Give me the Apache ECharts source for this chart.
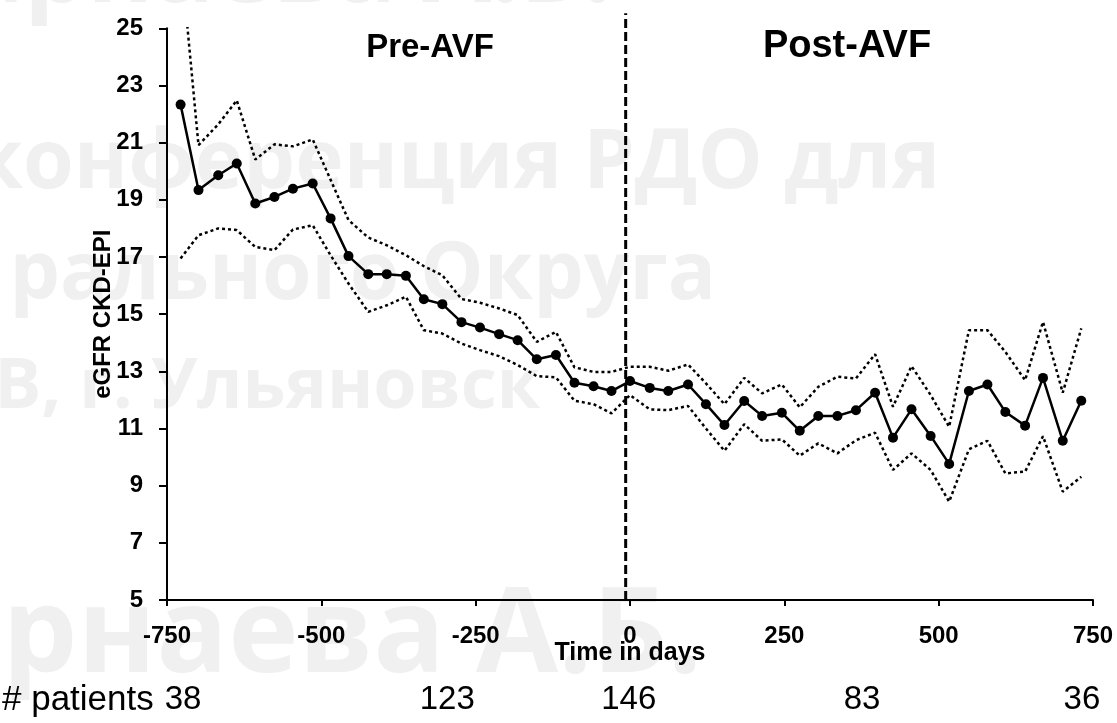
<!DOCTYPE html>
<html>
<head>
<meta charset="utf-8">
<script src="https://cdn.jsdelivr.net/npm/echarts/dist/echarts.min.js"></script>
<style>
	html, body { margin: 0; padding: 0; background: #fff; }
	#egfr-chart { width: 1117px; height: 723px; }
</style>
</head>
<body>
<div id="egfr-chart"></div>
<script>
// time (days from AVF creation) of each monthly point
var days = [-728, -699, -667, -637, -607, -576, -546, -514, -485, -456, -424, -394, -363,
	-334, -304, -273, -243, -212, -182, -151, -120, -90, -59, -30, 0,
	32, 62, 94, 123, 153, 185, 214, 246, 275, 305, 336, 366, 397, 426, 456, 487,
	517, 549, 579, 608, 640, 669, 701, 731];

// mean eGFR
var meanValues = [22.33, 19.34, 19.86, 20.27, 18.87, 19.10, 19.39, 19.57, 18.35, 17.03, 16.40, 16.40, 16.34,
	15.52, 15.35, 14.72, 14.53, 14.30, 14.09, 13.42, 13.57, 12.60, 12.48, 12.31, 12.66,
	12.42, 12.31, 12.54, 11.85, 11.12, 11.96, 11.44, 11.55, 10.92, 11.44, 11.44, 11.64, 12.25, 10.68, 11.67, 10.74,
	9.76, 12.31, 12.54, 11.58, 11.10, 12.77, 10.57, 11.97];

// upper 95% CI
var upperValues = [27.6, 20.91, 21.64, 22.48, 20.41, 20.94, 20.87, 21.11, 19.70, 18.29, 17.68, 17.41, 17.06,
	16.68, 16.36, 15.53, 15.40, 15.20, 14.97, 14.03, 14.38, 13.14, 12.98, 12.98, 13.16,
	13.16, 13.02, 13.24, 12.58, 11.85, 12.77, 12.23, 12.54, 11.74, 12.46, 12.81, 12.75, 13.60, 11.76, 13.18, 12.17,
	11.06, 14.44, 14.44, 13.68, 12.69, 14.73, 12.25, 14.50];

// lower 95% CI
var lowerValues = [16.95, 17.76, 18.00, 17.94, 17.35, 17.24, 17.96, 18.11, 17.06, 16.07, 15.08, 15.31, 15.61,
	14.44, 14.32, 13.97, 13.74, 13.53, 13.22, 12.83, 12.79, 11.97, 11.85, 11.53, 12.17,
	11.67, 11.64, 11.79, 11.00, 10.22, 11.15, 10.57, 10.62, 10.05, 10.48, 10.13, 10.59, 10.85, 9.55, 10.13, 9.55,
	8.44, 10.27, 10.57, 9.43, 9.49, 10.73, 8.79, 9.31];

// AVF creation marker (dashed vertical)
var avfLine = [[-7, 5], [-7, 25.53]];

// number of patients under the axis
var patientDays = [-724, -296, -2, 376, 732];
var patientCounts = [38, 123, 146, 83, 36];

var FONT = '"Liberation Sans", Arial, sans-serif';

function pairs(xs, ys) {
	var out = [];
	for (var i = 0; i < xs.length; i++) {
		out.push([xs[i], ys[i]]);
	}
	return out;
}

var myChart = echarts.init(document.getElementById('egfr-chart'));

/*--- watermark ---*/
var wmColor = '#f0f0f0';
var watermark = [
	{ text: 'Чарнаева А.Б.', x: 612, y: -26, size: 100 },
	{ text: 'конференция РДО для', x: 940, y: 165, size: 82 },
	{ text: 'рального Округа', x: 716, y: 276, size: 80 },
	{ text: 'В, г. Ульяновск', x: 540, y: 388, size: 70 },
	{ text: 'Чарнаева А.Б.', x: 702, y: 638, size: 119 }
];

var option = {
	backgroundColor: '#ffffff',
	animation: false,
	grid: {
		left: 167,
		right: 24,
		top: 28.3,
		bottom: 123,
		outerBoundsMode: 'none'
	},
	xAxis: {
		type: 'value',
		min: -750,
		max: 750,
		interval: 250,
		name: 'Time in days',
		nameLocation: 'middle',
		nameGap: 41,
		nameMoveOverlap: false,
		nameTextStyle: {
			color: '#000',
			fontSize: 25,
			fontWeight: 'bold',
			fontFamily: FONT
		},
		axisLine: {
			onZero: false,
			lineStyle: { color: '#000', width: 2 }
		},
		axisTick: {
			length: 6,
			lineStyle: { color: '#000', width: 2 }
		},
		axisLabel: {
			margin: 24,
			color: '#000',
			fontSize: 24,
			fontWeight: 'bold',
			fontFamily: FONT,
			showMinLabel: true,
			showMaxLabel: true
		},
		splitLine: { show: false }
	},
	yAxis: {
		type: 'value',
		min: 5,
		max: 25,
		interval: 2,
		name: 'eGFR CKD-EPI',
		nameLocation: 'middle',
		nameRotate: 90,
		nameGap: 52,
		nameMoveOverlap: false,
		nameTextStyle: {
			color: '#000',
			fontSize: 24,
			fontWeight: 'bold',
			fontFamily: FONT
		},
		axisLine: {
			show: true,
			onZero: false,
			lineStyle: { color: '#000', width: 2 }
		},
		axisTick: {
			show: true,
			length: 8,
			lineStyle: { color: '#000', width: 2 }
		},
		axisLabel: {
			margin: 24,
			color: '#000',
			fontSize: 24,
			fontWeight: 'bold',
			fontFamily: FONT
		},
		splitLine: { show: false }
	},
	graphic: watermark.map(function (w) {
		return {
			type: 'text',
			x: w.x,
			y: w.y,
			z: -10,
			silent: true,
			style: {
				text: w.text,
				font: 'bold ' + w.size + 'px "Open Sans", "DejaVu Sans", sans-serif',
				fill: wmColor,
				align: 'right',
				verticalAlign: 'middle'
			}
		};
	}),
	series: [{
		name: 'Upper CI',
		type: 'line',
		data: pairs(days, upperValues),
		symbol: 'none',
		lineStyle: { color: '#000', width: 2.5, type: [3, 3] },
		z: 2
	}, {
		name: 'Lower CI',
		type: 'line',
		data: pairs(days, lowerValues),
		symbol: 'none',
		lineStyle: { color: '#000', width: 2.5, type: [3, 3] },
		z: 2
	}, {
		name: 'AVF',
		type: 'line',
		data: avfLine,
		symbol: 'none',
		clip: false,
		lineStyle: { color: '#000', width: 3, type: [9, 4] },
		z: 3
	}, {
		name: 'Mean eGFR',
		type: 'line',
		data: pairs(days, meanValues),
		symbol: 'circle',
		symbolSize: 10,
		itemStyle: { color: '#000' },
		lineStyle: { color: '#000', width: 2.5 },
		z: 4
	}]
};
myChart.setOption(option);

/*--- labels above the plot and patient counts under the axis ---*/
var extra = [{
	type: 'text', x: 430, y: 48,
	style: { text: 'Pre-AVF', font: 'bold 33px ' + FONT, fill: '#000', align: 'center', verticalAlign: 'middle' }
}, {
	type: 'text', x: 847, y: 47,
	style: { text: 'Post-AVF', font: 'bold 38px ' + FONT, fill: '#000', align: 'center', verticalAlign: 'middle' }
}, {
	type: 'text', x: 2, y: 700,
	style: { text: '# patients', font: '35px ' + FONT, fill: '#000', align: 'left', verticalAlign: 'middle' }
}];
for (var i = 0; i < patientDays.length; i++) {
	var px = myChart.convertToPixel({ xAxisIndex: 0 }, patientDays[i]);
	extra.push({
		type: 'text', x: px, y: 700,
		style: { text: String(patientCounts[i]), font: '33px ' + FONT, fill: '#000', align: 'center', verticalAlign: 'middle' }
	});
}
myChart.setOption({ graphic: option.graphic.concat(extra) });

window.addEventListener('resize', function () {
	myChart.resize();
});
</script>
</body>
</html>
